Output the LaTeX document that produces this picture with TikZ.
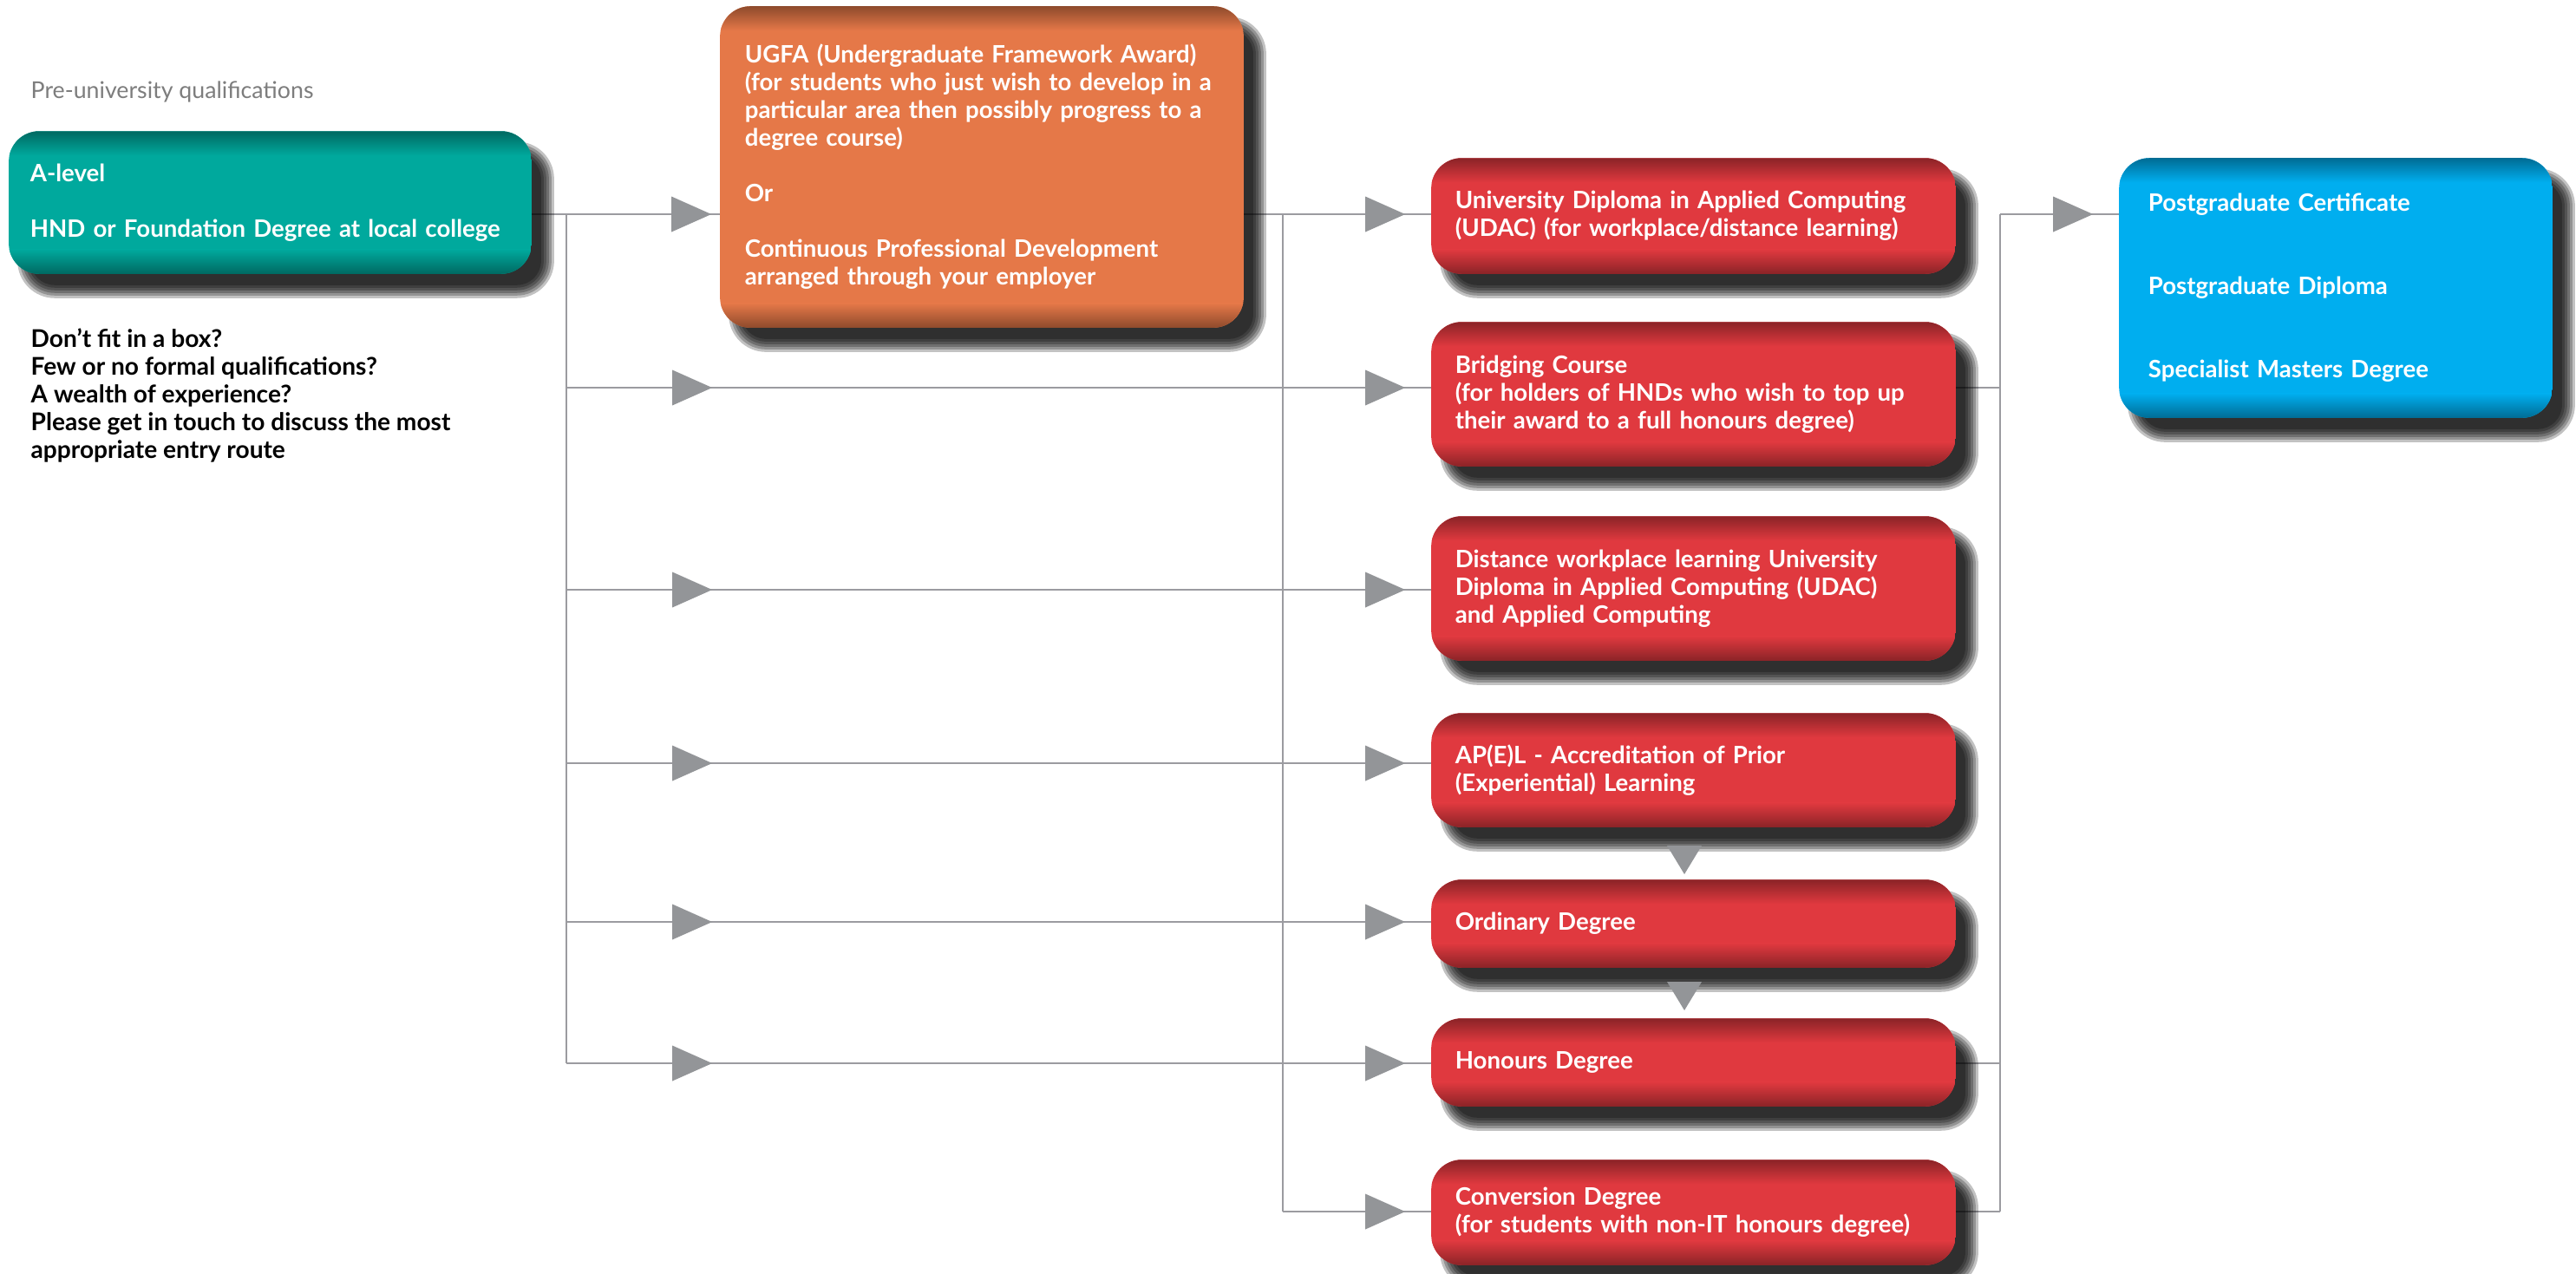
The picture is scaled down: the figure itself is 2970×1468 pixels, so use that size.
\documentclass[tikz,border=0pt]{standalone}
\usepackage{fontspec}
\setmainfont{Lato}
\usetikzlibrary{decorations.markings,calc}
\definecolor{tealc}{RGB}{0,169,157}
\definecolor{orangec}{RGB}{229,120,72}
\definecolor{redc}{RGB}{224,57,63}
\definecolor{bluec}{RGB}{0,174,239}
\definecolor{linec}{RGB}{155,155,160}
\definecolor{arrowc}{RGB}{147,149,152}
\definecolor{capc}{RGB}{125,125,125}
\pgfdeclarelayer{back}
\pgfdeclarelayer{bg}
\pgfdeclarelayer{shad}
\pgfdeclarelayer{boxbg}
\pgfsetlayers{back,bg,shad,boxbg,main}
\newcommand\boxfont{\fontsize{7.85pt}{9.1pt}\selectfont\bfseries}
\newcommand\notefont{\fontsize{8pt}{9.1pt}\selectfont\bfseries}
\newcommand\sidefont{\fontsize{7.6pt}{9.1pt}\selectfont}
\newcommand\arrtri{\fill[arrowc] (0,0) -- (-0.46cm,0.205cm) -- (-0.46cm,-0.205cm) -- cycle;}
% soft shadow and bevelled fill behind a named box
\newcommand\boxbg[2]{%
  \begin{pgfonlayer}{shad}
    \foreach \e in {8,5,2,-1,-4,-7}{
      \pgfmathsetmacro\rr{(35+\e)*0.01}
      \fill[black, fill opacity=0.24, rounded corners=\rr cm]
        ($(#1.north west)+(18-\e,20-\e)$) rectangle ($(#1.south east)+(18+\e,20+\e)$);
    }
  \end{pgfonlayer}
  \begin{pgfonlayer}{boxbg}
    \begin{scope}
      \clip[rounded corners=0.35cm] (#1.north west) rectangle (#1.south east);
      \fill[#2] (#1.north west) rectangle (#1.south east);
      \shade[top color=#2!62!black, bottom color=#2]
        (#1.north west) rectangle ($(#1.north east)+(0,28)$);
      \shade[top color=#2, bottom color=#2!62!black]
        ($(#1.south west)+(0,-28)$) rectangle (#1.south east);
    \end{scope}
  \end{pgfonlayer}
}
\tikzset{
  box/.style={rounded corners=0.35cm, inner ysep=0pt, align=left,
    text=white, font=\boxfont, anchor=center},
  redbox/.style={box, text width=5.49cm, inner xsep=0.27cm},
  conn/.style={draw=linec, line width=0.025cm},
  onetip/.style={postaction={decorate},
    decoration={markings, mark=at position #1 with {\arrtri}}},
  twotips/.style 2 args={postaction={decorate},
    decoration={markings, mark=at position #1 with {\arrtri},
                          mark=at position #2 with {\arrtri}}},
  downtri/.style={fill=arrowc},
}
\begin{document}
\begin{tikzpicture}[x=0.01cm, y=-0.01cm]
\useasboundingbox (0,0) rectangle (2970,1468);
\begin{pgfonlayer}{back}
  \fill[white] (0,0) rectangle (2970,1468);
\end{pgfonlayer}

% captions
\node[anchor=west, inner sep=0pt, font=\sidefont, text=capc] (cap) at (35,106)
  {Pre-university qualifications};
\node[anchor=west, inner sep=0pt, font=\notefont, align=left, text=black] (note) at (35,456)
  {Don’t fit in a box?\\Few or no formal qualifications?\\A wealth of experience?\\
   Please get in touch to discuss the most\\appropriate entry route};

% boxes
\node[box, text width=5.53cm, inner xsep=0.24cm, minimum height=1.63cm] (teal) at (311.5,233.5)
  {A-level\\[\baselineskip]HND or Foundation Degree at local college};
\node[box, text width=5.46cm, inner xsep=0.28cm, minimum height=3.69cm] (ugfa) at (1132,192.5)
  {UGFA (Undergraduate Framework Award)\\(for students who just wish to develop in a\\
   particular area then possibly progress to a\\degree course)\\[\baselineskip]Or\\[\baselineskip]
   Continuous Professional Development\\arranged through your employer};
\node[redbox, minimum height=1.32cm] (udac) at (1952.5,249)
  {University Diploma in Applied Computing\\(UDAC) (for workplace/distance learning)};
\node[redbox, minimum height=1.65cm] (bridge) at (1952.5,454.5)
  {Bridging Course\\(for holders of HNDs who wish to top up\\their award to a full honours degree)};
\node[redbox, minimum height=1.65cm] (dist) at (1952.5,678.5)
  {Distance workplace learning University\\Diploma in Applied Computing (UDAC)\\and Applied Computing};
\node[redbox, minimum height=1.30cm] (apel) at (1952.5,888)
  {AP(E)L - Accreditation of Prior\\(Experiential) Learning};
\node[redbox, minimum height=1.00cm] (ord) at (1952.5,1065)
  {Ordinary Degree};
\node[redbox, minimum height=1.00cm] (hon) at (1952.5,1225)
  {Honours Degree};
\node[redbox, minimum height=1.20cm] (conv) at (1952.5,1398)
  {Conversion Degree\\(for students with non-IT honours degree)};
\node[box, text width=4.32cm, inner xsep=0.33cm, minimum height=2.98cm] (pg) at (2693,332)
  {Postgraduate Certificate\\[2\baselineskip]Postgraduate Diploma\\[2\baselineskip]Specialist Masters Degree};

\boxbg{teal}{tealc}
\boxbg{ugfa}{orangec}
\boxbg{udac}{redc}
\boxbg{bridge}{redc}
\boxbg{dist}{redc}
\boxbg{apel}{redc}
\boxbg{ord}{redc}
\boxbg{hon}{redc}
\boxbg{conv}{redc}
\boxbg{pg}{bluec}

% junction coordinates
\coordinate (L1) at (653,247);
\coordinate (L2) at (653,447);
\coordinate (L3) at (653,680);
\coordinate (L4) at (653,880);
\coordinate (L5) at (653,1063);
\coordinate (L6) at (653,1226);
\coordinate (M1) at (1479,247);
\coordinate (M7) at (1479,1397);
\coordinate (R1) at (2306,247);
\coordinate (R2) at (2306,447);
\coordinate (R6) at (2306,1226);
\coordinate (R7) at (2306,1397);

\begin{pgfonlayer}{bg}
  \draw[conn, onetip={-0.1cm}] (teal.east |- L1) -- (ugfa.west |- L1);
  \draw[conn] (L1) -- (L6);
  \draw[conn, twotips={1.68cm}{-0.3cm}] (L2) -- (bridge.west |- L2);
  \draw[conn, twotips={1.68cm}{-0.3cm}] (L3) -- (dist.west |- L3);
  \draw[conn, twotips={1.68cm}{-0.3cm}] (L4) -- (apel.west |- L4);
  \draw[conn, twotips={1.68cm}{-0.3cm}] (L5) -- (ord.west |- L5);
  \draw[conn, twotips={1.68cm}{-0.3cm}] (L6) -- (hon.west |- L6);
  \draw[conn, onetip={-0.3cm}] (ugfa.east |- M1) -- (udac.west |- M1);
  \draw[conn] (M1) -- (M7);
  \draw[conn, onetip={-0.3cm}] (M7) -- (conv.west |- M7);
  \draw[conn] (bridge.east |- R2) -- (R2);
  \draw[conn] (hon.east |- R6) -- (R6);
  \draw[conn] (conv.east |- R7) -- (R7);
  \draw[conn] (R7) -- (R1);
  \draw[conn, onetip={-0.3cm}] (R1) -- (pg.west |- R1);
\end{pgfonlayer}

% arrows between stacked boxes
\coordinate (d1) at (1942,1008);
\coordinate (d2) at (1942,1165);
\fill[downtri] (d1) -- ++(-20,-33) -- ++(40,0) -- cycle;
\fill[downtri] (d2) -- ++(-20,-33) -- ++(40,0) -- cycle;
\end{tikzpicture}
\end{document}
